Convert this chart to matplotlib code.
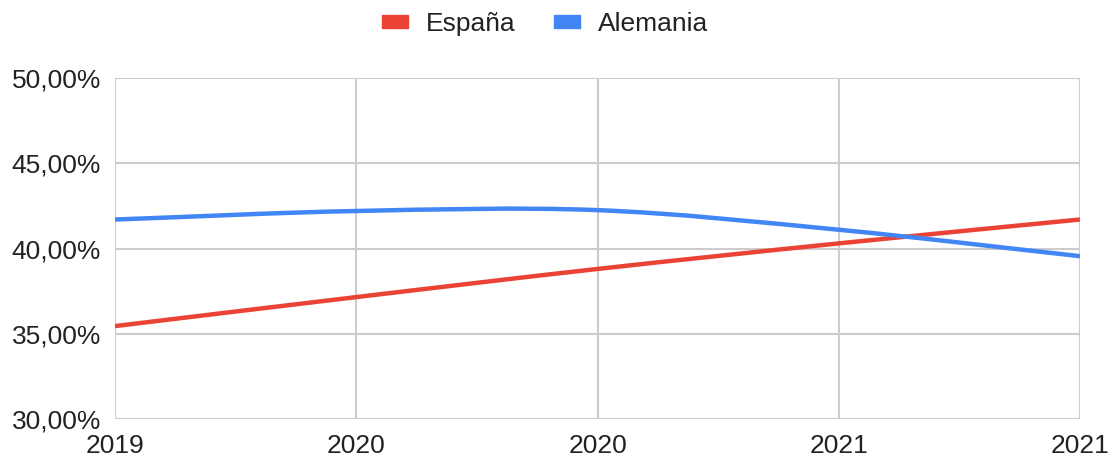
import matplotlib
matplotlib.use('Agg')
import matplotlib.pyplot as plt
from matplotlib.path import Path
from matplotlib.patches import PathPatch, Patch
import numpy as np

plt.rcParams['font.family'] = ['Liberation Sans', 'DejaVu Sans']

# DATA
x_labels = ['2019', '2020', '2020', '2021', '2021']
espana = [35.45, 37.15, 38.8, 40.3, 41.7]
alemania = [41.7, 42.2, 42.25, 41.1, 39.55]

RED = '#EA4335'
BLUE = '#4285F4'
GRID = '#CCCCCC'


def smooth_path(xs, ys, k=1.0):
    # cubic bezier through the points, catmull-rom tangents
    pts = np.column_stack([xs, ys]).astype(float)
    n = len(pts)
    tang = np.zeros_like(pts)
    for i in range(n):
        a = pts[max(i - 1, 0)]
        b = pts[min(i + 1, n - 1)]
        tang[i] = (b - a) / (min(i + 1, n - 1) - max(i - 1, 0))
    verts = [pts[0]]
    codes = [Path.MOVETO]
    for i in range(n - 1):
        c1 = pts[i] + tang[i] * k / 3
        c2 = pts[i + 1] - tang[i + 1] * k / 3
        verts += [c1, c2, pts[i + 1]]
        codes += [Path.CURVE4] * 3
    return Path(verts, codes)


fig = plt.figure(figsize=(11.13, 4.63), dpi=100)
ax = fig.add_axes([115 / 1113, 1 - 419 / 463, (1080 - 115) / 1113, (419 - 78) / 463])

xs = np.arange(len(x_labels))
for vals, col in [(espana, RED), (alemania, BLUE)]:
    p = PathPatch(smooth_path(xs, vals), facecolor='none', edgecolor=col,
                  lw=3.2, capstyle='butt', zorder=3)
    ax.add_patch(p)

ax.set_xlim(0, len(x_labels) - 1)
ax.set_ylim(30, 50)
ax.set_xticks(xs)
ax.set_xticklabels(x_labels)
ax.set_yticks([30, 35, 40, 45, 50])
ax.set_yticklabels(['30,00%', '35,00%', '40,00%', '45,00%', '50,00%'])
ax.grid(True, color=GRID, lw=1.5)
for s in ax.spines.values():
    s.set_visible(False)
ax.tick_params(length=0, labelsize=19, colors='#222222')
ax.tick_params(axis='x', pad=11)
ax.tick_params(axis='y', pad=10)

handles = [Patch(color=RED, label='España'), Patch(color=BLUE, label='Alemania')]
fig.legend(handles=handles, loc='center', bbox_to_anchor=(545 / 1113, 1 - 24 / 463), ncol=2,
           frameon=False, fontsize=19, handlelength=1.0, handleheight=0.34,
           handletextpad=0.68, columnspacing=1.45, labelcolor='#222222')

fig.savefig('out.png', dpi=100)
